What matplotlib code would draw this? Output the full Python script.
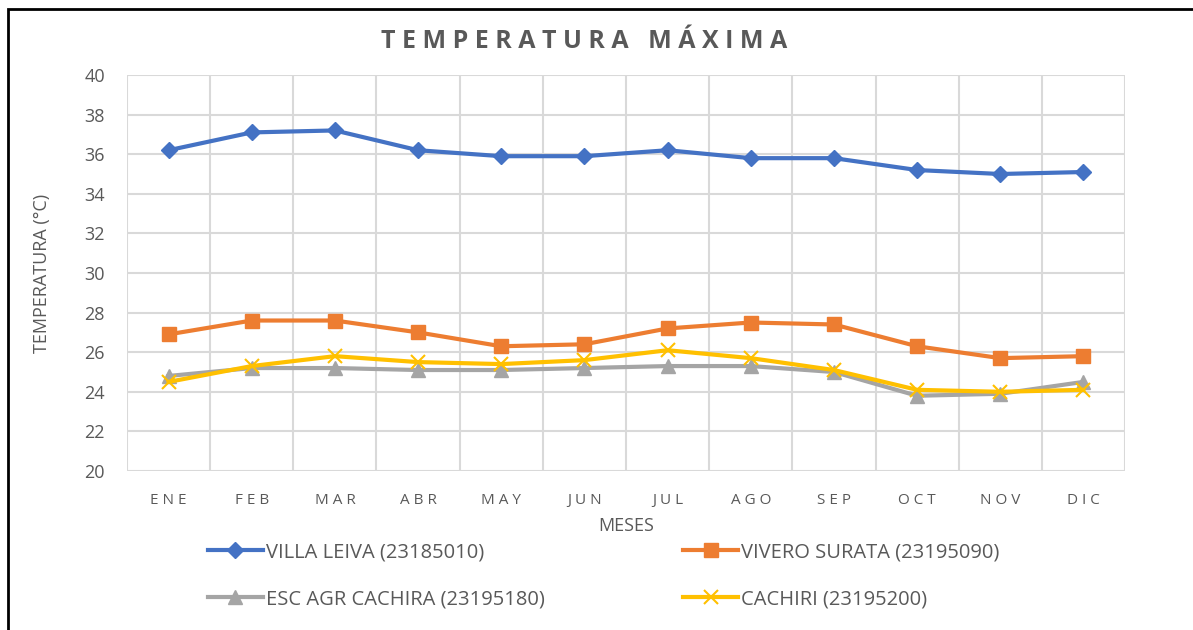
import matplotlib.pyplot as plt
from matplotlib.patches import Rectangle

plt.rcParams['font.family'] = ['Open Sans', 'DejaVu Sans']

meses = ['E N E', 'F E B', 'M A R', 'A B R', 'M A Y', 'J U N', 'J U L', 'A G O', 'S E P', 'O C T', 'N O V', 'D I C']

villa_leiva = [36.2, 37.1, 37.2, 36.2, 35.9, 35.9, 36.2, 35.8, 35.8, 35.2, 35.0, 35.1]
vivero_surata = [26.9, 27.6, 27.6, 27.0, 26.3, 26.4, 27.2, 27.5, 27.4, 26.3, 25.7, 25.8]
esc_agr_cachira = [24.8, 25.2, 25.2, 25.1, 25.1, 25.2, 25.3, 25.3, 25.0, 23.8, 23.9, 24.5]
cachiri = [24.5, 25.3, 25.8, 25.5, 25.4, 25.6, 26.1, 25.7, 25.1, 24.1, 24.0, 24.1]

gris = '#595959'

fig = plt.figure(figsize=(11.93, 6.3), dpi=100)
ax = fig.add_axes([127/1193, 1-471/630, (1125-127)/1193, (471-75)/630])

x = range(len(meses))
l1, = ax.plot(x, villa_leiva, color='#4472C4', lw=3, marker='D', ms=8, label='VILLA LEIVA (23185010)')
l2, = ax.plot(x, vivero_surata, color='#ED7D31', lw=3, marker='s', ms=10, label='VIVERO SURATA (23195090)')
l3, = ax.plot(x, esc_agr_cachira, color='#A5A5A5', lw=3, marker='^', ms=10, label='ESC AGR CACHIRA (23195180)')
l4, = ax.plot(x, cachiri, color='#FFC000', lw=3, marker='x', ms=10, mew=1.5, label='CACHIRI (23195200)')

ax.set_xlim(-0.5, 11.5)
ax.set_ylim(20, 40)
ax.set_yticks(range(20, 41, 2))
ax.set_xticks(x)
ax.set_xticklabels(meses)
# gridlines at category boundaries
ax.set_xticks([i + 0.5 for i in range(-1, 12)], minor=True)
ax.grid(True, which='minor', axis='x', color='#D9D9D9', lw=1.5)
ax.grid(True, which='major', axis='y', color='#D9D9D9', lw=1.5)
ax.set_axisbelow(True)
ax.tick_params(which='both', length=0)
ax.tick_params(axis='y', labelsize=13, labelcolor=gris, pad=16)
ax.tick_params(axis='x', labelsize=11, labelcolor=gris, pad=16)
for s in ax.spines.values():
    s.set_visible(False)

ax.set_xlabel('MESES', fontsize=13, color=gris, labelpad=6)
ax.set_ylabel('TEMPERATURA (°C)', fontsize=13, color=gris, labelpad=24)

fig.text(0.49, 1-42/630, 'T E M P E R A T U R A   M Á X I M A', ha='center', va='center',
         fontsize=18, fontweight='bold', color=gris)

# legend filled row by row like the original
fig.legend([l1, l3, l2, l4], [l.get_label() for l in (l1, l3, l2, l4)],
           loc='upper left', bbox_to_anchor=(190/1193, 1-524/630), ncol=2,
           frameon=False, fontsize=14.5, labelcolor=gris, handlelength=2.7,
           columnspacing=6.9, handletextpad=0.15, labelspacing=1.35)

fig.add_artist(Rectangle((8/1193, -0.1), 1.2, 1-9/630 + 0.1, transform=fig.transFigure,
                         fill=False, edgecolor='black', lw=2))

plt.savefig('out.png', dpi=100)
